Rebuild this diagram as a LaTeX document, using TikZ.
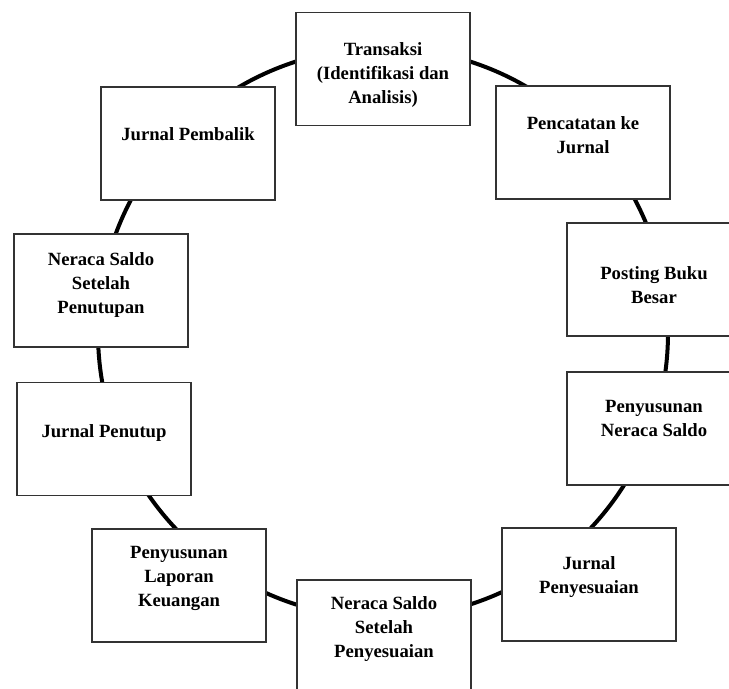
\documentclass[tikz,border=0pt]{standalone}
\usepackage{fontspec}
\setmainfont{Liberation Serif}
\usepackage{tikz}
\usetikzlibrary{positioning,calc}
\definecolor{Ring}{HTML}{000000}
\definecolor{BoxStroke}{HTML}{333333}

\begin{document}
\begin{tikzpicture}[x=0.75pt, y=-0.75pt,
  stepbox/.style={draw=BoxStroke, line width=0.8pt, fill=white, minimum width=130.5pt, minimum height=84.75pt, inner sep=0pt},
  steptext/.style={anchor=north, inner sep=0pt, align=center, font=\fontsize{14}{18}\selectfont\bfseries}]
  \useasboundingbox (0,0) rectangle (729,689);
  \clip (0,0) rectangle (729,689);

  % the cycle behind the boxes
  \coordinate (ctr) at (383,333);
  \draw[line width=3pt, Ring] (ctr) circle[radius=213.75pt];

  \node[stepbox] (trx) at (383,69) {};
  \node[stepbox] (jur) at (583,142.5) {};
  \node[stepbox] (post) at (654,279.5) {};
  \node[stepbox] (ns) at (654,428.5) {};
  \node[stepbox] (peny) at (589,584.5) {};
  \node[stepbox] (nsp) at (384,636.5) {};
  \node[stepbox] (lap) at (179,585.5) {};
  \node[stepbox] (tutup) at (104,439) {};
  \node[stepbox] (pnt) at (101,290.5) {};
  \node[stepbox] (pemb) at (188,143.5) {};

  \node[steptext] (trx-t) at ($(trx.north)+(0,30)$) {Transaksi\\(Identifikasi dan\\Analisis)};
  \node[steptext] (jur-t) at ($(jur.north)+(0,31)$) {Pencatatan ke\\Jurnal};
  \node[steptext] (post-t) at ($(post.north)+(0,44)$) {Posting Buku\\Besar};
  \node[steptext] (ns-t) at ($(ns.north)+(0,29)$) {Penyusunan\\Neraca Saldo};
  \node[steptext] (peny-t) at ($(peny.north)+(0,29)$) {Jurnal\\Penyesuaian};
  \node[steptext] (nsp-t) at ($(nsp.north)+(0,17)$) {Neraca Saldo\\Setelah\\Penyesuaian};
  \node[steptext] (lap-t) at ($(lap.north)+(0,18)$) {Penyusunan\\Laporan\\Keuangan};
  \node[steptext] (tutup-t) at ($(tutup.north)+(0,42)$) {Jurnal Penutup};
  \node[steptext] (pnt-t) at ($(pnt.north)+(0,19)$) {Neraca Saldo\\Setelah\\Penutupan};
  \node[steptext] (pemb-t) at ($(pemb.north)+(0,41)$) {Jurnal Pembalik};
\end{tikzpicture}
\end{document}
